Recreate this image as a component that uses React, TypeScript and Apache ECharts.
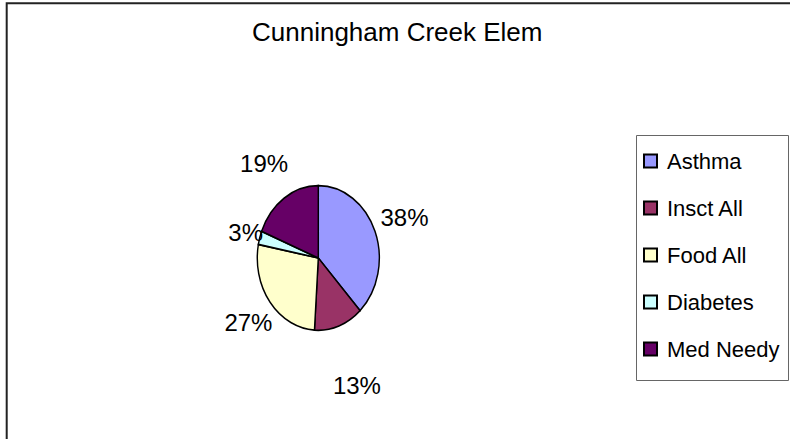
import React, { useEffect, useRef } from "react";
import * as echarts from "echarts";

const chartTitle = "Cunningham Creek Elem";
const categories = ["Asthma", "Insct All", "Food All", "Diabetes", "Med Needy"];
const values = [38, 13, 27, 3, 19];
const colors = ["#9999FF", "#993366", "#FFFFCC", "#CCFFFF", "#660066"];
// how far out each percentage label sits, relative to the pie radius
const labelReach = [1.52, 1.87, 1.45, 1.24, 1.58];

const FONT = '"Liberation Sans", Arial, Helvetica, sans-serif';
const CX = 318.3;
const CY = 258;
const RX = 61;
const RY = 72.3;

export default function App() {
  const ref = useRef<HTMLDivElement>(null);

  useEffect(() => {
    const chart = echarts.init(ref.current as HTMLDivElement, null, { renderer: "svg" });
    const total = values.reduce((a, b) => a + b, 0);
    const starts = values.map((_, i) => values.slice(0, i).reduce((a, b) => a + b, 0));

    const series = categories.map((name, i) => ({
      type: "custom",
      name,
      coordinateSystem: "none",
      itemStyle: { color: colors[i] },
      data: [[values[i]]],
      renderItem: (params: any, api: any) => {
        const v = api.value(0) as number;
        const f0 = starts[i] / total;
        const f1 = f0 + v / total;
        const a0 = -Math.PI / 2 + 2 * Math.PI * f0;
        const a1 = -Math.PI / 2 + 2 * Math.PI * f1;
        const mid = (a0 + a1) / 2;
        const k = labelReach[i];
        return {
          type: "group",
          children: [
            {
              type: "sector",
              x: CX,
              y: CY,
              scaleX: RX / RY,
              shape: { cx: 0, cy: 0, r0: 0, r: RY, startAngle: a0, endAngle: a1, clockwise: true },
              style: { fill: colors[i], stroke: "#000", lineWidth: 1.7 },
            },
            {
              type: "text",
              x: CX + Math.cos(mid) * RX * k,
              y: CY + Math.sin(mid) * RY * k,
              style: {
                text: Math.round((v / total) * 100) + "%",
                fill: "#000",
                font: "24px " + FONT,
                align: "center",
                verticalAlign: "middle",
              },
            },
          ],
        };
      },
    }));

    chart.setOption({
      animation: false,
      backgroundColor: "#fff",
      title: {
        text: chartTitle,
        left: 252,
        top: 19,
        padding: 0,
        textStyle: { fontSize: 26, fontWeight: "normal", fontFamily: FONT, color: "#000" },
      },
      legend: {
        orient: "vertical",
        left: 643,
        top: 150,
        padding: 0,
        itemGap: 25,
        itemWidth: 13,
        itemHeight: 13,
        icon: "rect",
        selectedMode: false,
        itemStyle: { borderColor: "#000", borderWidth: 2 },
        textStyle: {
          fontSize: 22,
          lineHeight: 22,
          fontFamily: FONT,
          color: "#000",
          padding: [0, 0, 0, 5],
        },
        data: categories,
      },
      graphic: [
        {
          type: "polyline",
          shape: { points: [[6.7, 439], [6.7, 3.3], [790, 3.3]] },
          style: { fill: "none", stroke: "#222", lineWidth: 2 },
        },
        {
          type: "rect",
          shape: { x: 636.5, y: 135.5, width: 152, height: 245 },
          style: { fill: "none", stroke: "#666", lineWidth: 1 },
        },
      ],
      series,
    });

    return () => chart.dispose();
  }, []);

  return (
    <div
      ref={ref}
      style={{ position: "fixed", left: 0, top: 0, width: 790, height: 439, background: "#fff" }}
    />
  );
}
